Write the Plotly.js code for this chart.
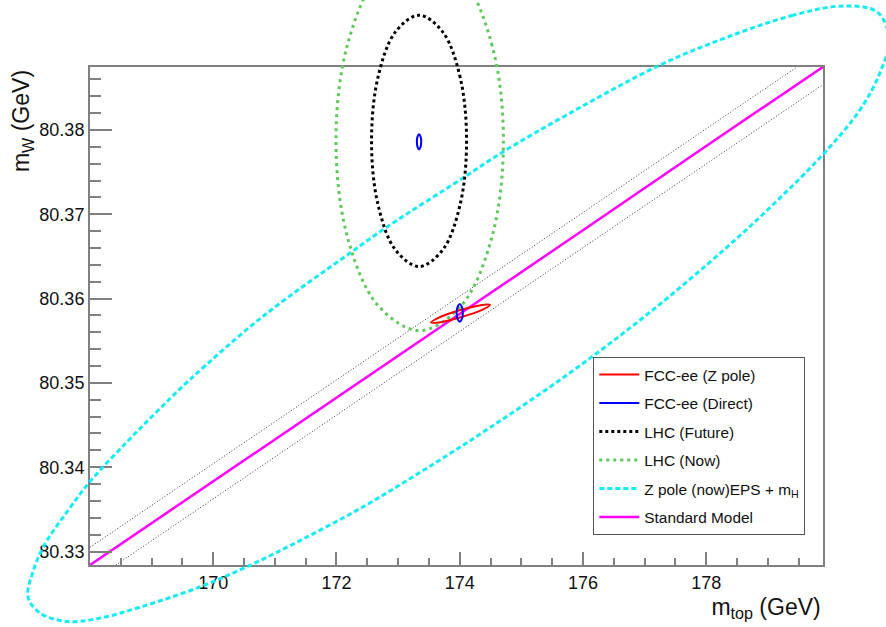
<!DOCTYPE html>
<html><head><meta charset="utf-8">
<script src="https://cdn.plot.ly/plotly-3.0.1.min.js"></script>
<style>html,body{margin:0;padding:0;background:#fff}#chart{width:886px;height:627px}</style>
</head><body><div id="chart"></div>
<script>
// ---------- data (m_top in GeV, m_W in GeV) ----------
// Standard Model prediction
const smTop = [168, 170, 172, 174, 176, 178, 179.9];
const smW   = [80.3284, 80.3383, 80.3483, 80.3582, 80.3681, 80.3781, 80.3875];
// SM uncertainty band edges (thin dotted)
const bandUpTop = [168, 172, 176, 179.48];
const bandUpW   = [80.3305, 80.3504, 80.3702, 80.3875];
const bandLoTop = [168.42, 172, 176, 179.9];
const bandLoW   = [80.3284, 80.3462, 80.3660, 80.3854];
// Z pole (now) EPS + mH contour
const zpNowTop = [180.220, 179.409, 178.338, 177.251, 175.790, 174.703, 174.053, 172.820, 172.220, 170.808, 169.623, 169.087, 168.600, 168.000, 167.627, 167.253, 167.075, 166.994, 167.189, 167.627, 168.162, 168.811, 169.785, 170.548, 171.408, 172.431, 173.404, 174.492, 175.790, 177.056, 178.338, 179.149, 179.896, 180.496, 180.821, 180.967, 180.772, 180.220];
const zpNowW   = [80.3947, 80.3936, 80.3910, 80.3877, 80.3820, 80.3774, 80.3743, 80.3685, 80.3654, 80.3579, 80.3504, 80.3466, 80.3430, 80.3383, 80.3347, 80.3307, 80.3276, 80.3246, 80.3227, 80.3217, 80.3221, 80.3234, 80.3258, 80.3282, 80.3313, 80.3353, 80.3396, 80.3447, 80.3512, 80.3582, 80.3661, 80.3716, 80.3771, 80.3824, 80.3868, 80.3909, 80.3940, 80.3947];
// LHC (Now) contour
const lhcNowTop = [174.709, 174.526, 174.029, 173.35, 172.671, 172.174, 171.992, 172.174, 172.671, 173.35, 174.029, 174.526, 174.709];
const lhcNowW   = [80.3787, 80.3900, 80.3982, 80.4012, 80.3982, 80.3900, 80.3787, 80.3674, 80.3592, 80.3562, 80.3592, 80.3674, 80.3787];
// LHC (Future) contour
const lhcFutTop = [174.111, 174.008, 173.726, 173.34, 172.954, 172.672, 172.569, 172.672, 172.954, 173.34, 173.726, 174.008, 174.111];
const lhcFutW   = [80.3787, 80.3862, 80.3916, 80.3936, 80.3916, 80.3862, 80.3787, 80.3712, 80.3658, 80.3638, 80.3658, 80.3712, 80.3787];
// FCC-ee (Z pole) contour
const fccZTop = [174.492, 174.341, 173.997, 173.662, 173.534, 173.685, 174.029, 174.363, 174.492];
const fccZW   = [80.35925, 80.35922, 80.35861, 80.35775, 80.35717, 80.35719, 80.35781, 80.35866, 80.35925];
// FCC-ee (Direct) contour
const fccDTop = [174.05, 174.035, 174.0, 173.965, 173.95, 173.965, 174.0, 174.035, 174.05];
const fccDW   = [80.3583, 80.3590, 80.35935, 80.3590, 80.3583, 80.3576, 80.35725, 80.3576, 80.3583];
// small direct-precision contour at the LHC centre
const fccD2Top = [173.375, 173.365, 173.34, 173.315, 173.305, 173.315, 173.34, 173.365, 173.375];
const fccD2W   = [80.3786, 80.3792, 80.3795, 80.3792, 80.3786, 80.3780, 80.3777, 80.3780, 80.3786];
// axes
const xTicks = [170, 172, 174, 176, 178];
const yTicks = [80.33, 80.34, 80.35, 80.36, 80.37, 80.38];
const xRange = [168, 179.9];
const yRange = [80.3284, 80.3875];

// ---------- layout geometry ----------
const W = 886, H = 627;
const xDom = [90 / W, 823.3 / W];
const yDom = [1 - 565 / H, 1 - 66.7 / H];
function fullRange(r, d) {
  const s = (r[1] - r[0]) / (d[1] - d[0]);
  return [r[0] - d[0] * s, r[1] + (1 - d[1]) * s];
}
const FONT = 'Liberation Sans, Arial, Helvetica, sans-serif';
const GREY = '#808080';

const traces = [
  {x: bandUpTop, y: bandUpW, xaxis: 'x', yaxis: 'y', mode: 'lines', showlegend: false, hoverinfo: 'skip',
   line: {color: '#333', width: 1, dash: '1px,2px'}},
  {x: bandLoTop, y: bandLoW, xaxis: 'x', yaxis: 'y', mode: 'lines', showlegend: false, hoverinfo: 'skip',
   line: {color: '#333', width: 1, dash: '1px,2px'}},
  {x: smTop, y: smW, xaxis: 'x', yaxis: 'y', mode: 'lines', name: 'Standard Model', legendrank: 6, legendgroup: 'g6',
   line: {color: '#ff00ff', width: 2.5}},
  {x: zpNowTop, y: zpNowW, xaxis: 'x2', yaxis: 'y2', mode: 'lines', name: 'Z pole (now)EPS + m<sub>H</sub>', legendrank: 5, legendgroup: 'g5',
   line: {color: '#14ecf4', width: 3, dash: '5px,3px', shape: 'spline', smoothing: 1}},
  {x: lhcNowTop, y: lhcNowW, xaxis: 'x2', yaxis: 'y2', mode: 'lines', name: 'LHC (Now)', legendrank: 4, legendgroup: 'g4',
   line: {color: '#5ec85a', width: 3, dash: '3px,4px', shape: 'spline', smoothing: 1}},
  {x: lhcFutTop, y: lhcFutW, xaxis: 'x2', yaxis: 'y2', mode: 'lines', name: 'LHC (Future)', legendrank: 3, legendgroup: 'g3',
   line: {color: '#000', width: 3, dash: '3px,3px', shape: 'spline', smoothing: 1}},
  {x: fccZTop, y: fccZW, xaxis: 'x2', yaxis: 'y2', mode: 'lines', name: 'FCC-ee (Z pole)', legendrank: 1, legendgroup: 'g1',
   line: {color: '#ff0000', width: 2, shape: 'spline', smoothing: 1}},
  {x: fccDTop, y: fccDW, xaxis: 'x2', yaxis: 'y2', mode: 'lines', name: 'FCC-ee (Direct)', legendrank: 2, legendgroup: 'g2',
   line: {color: '#0000ff', width: 2, shape: 'spline', smoothing: 1}},
  {x: fccD2Top, y: fccD2W, xaxis: 'x2', yaxis: 'y2', mode: 'lines', showlegend: false, legendgroup: 'g2',
   line: {color: '#0000ff', width: 2, shape: 'spline', smoothing: 1}},
  // empty trace that carries the axis-title axes
  {x: [], y: [], xaxis: 'x3', yaxis: 'y3', mode: 'lines', showlegend: false, hoverinfo: 'skip'}
];

const hidden = {showline: false, ticks: '', showticklabels: false, showgrid: false, zeroline: false};
const layout = {
  width: W, height: H,
  margin: {l: 0, r: 0, t: 0, b: 0},
  paper_bgcolor: '#fff', plot_bgcolor: 'rgba(0,0,0,0)',
  font: {family: FONT, color: '#111'},
  showlegend: true,
  xaxis: {domain: xDom, range: xRange, anchor: 'y', showline: true, mirror: true, linecolor: GREY, linewidth: 2,
    ticks: 'inside', ticklen: 13, tickwidth: 2, tickcolor: GREY,
    tickmode: 'array', tickvals: xTicks, ticktext: xTicks.map(String), tickfont: {size: 18, color: '#111'},
    showgrid: false, zeroline: false,
    minor: {ticks: 'inside', ticklen: 7, tickwidth: 2, tickcolor: GREY, tickmode: 'linear', tick0: 168, dtick: 0.5, showgrid: false}},
  yaxis: {domain: yDom, range: yRange, anchor: 'x', showline: true, mirror: true, linecolor: GREY, linewidth: 2,
    ticks: 'inside', ticklen: 22, tickwidth: 2, tickcolor: GREY,
    tickmode: 'array', tickvals: yTicks, ticktext: yTicks.map(v => v.toFixed(2)), tickfont: {size: 18, color: '#111'},
    showgrid: false, zeroline: false,
    minor: {ticks: 'inside', ticklen: 11, tickwidth: 2, tickcolor: GREY, tickmode: 'linear', tick0: 80.33, dtick: 0.002, showgrid: false}},
  xaxis2: {domain: [0, 1], range: fullRange(xRange, xDom), anchor: 'y2', visible: false},
  yaxis2: {domain: [0, 1], range: fullRange(yRange, yDom), anchor: 'x2', visible: false},
  xaxis3: Object.assign({domain: [0.80, 0.9292], anchor: 'free', position: 1 - 565 / H, range: [0, 1],
    title: {text: 'm<sub>top</sub> (GeV)', font: {size: 23, color: '#111'}, standoff: 33}}, hidden),
  yaxis3: Object.assign({domain: [0.72, 0.894], anchor: 'free', position: 90 / W, range: [0, 1],
    title: {text: 'm<sub>W</sub> (GeV)', font: {size: 23, color: '#111'}, standoff: 52}}, hidden),
  legend: {x: 593.3 / W, y: 1 - 357 / H, xanchor: 'left', yanchor: 'top', bgcolor: '#fff',
    bordercolor: '#555', borderwidth: 1, font: {size: 15.4, color: '#111'}, itemwidth: 40,
    traceorder: 'grouped', tracegroupgap: 5.5}
};

Plotly.newPlot('chart', traces, layout, {displayModeBar: false, staticPlot: true});
</script>
</body></html>
